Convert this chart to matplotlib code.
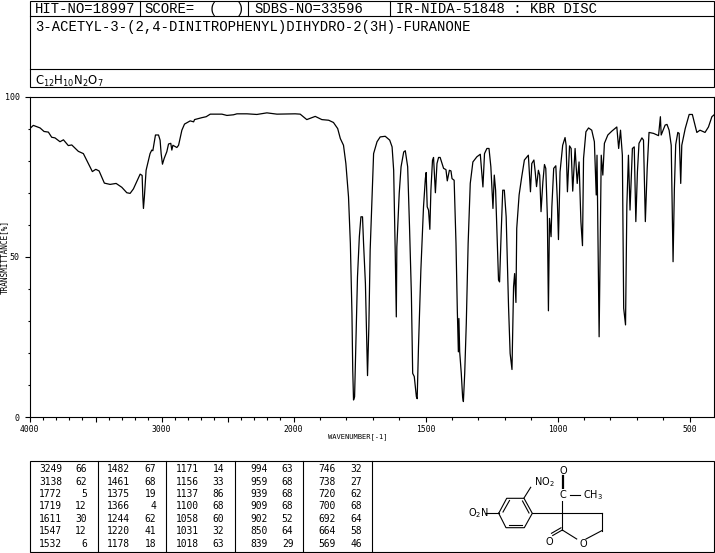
import matplotlib
matplotlib.use('Agg')
import matplotlib.pyplot as plt
from matplotlib.patches import Rectangle
import numpy as np

# Spectrum: wavenumber (1/cm), transmittance (%)
wavenumber = [
    4000, 3971, 3920, 3890, 3857, 3832, 3807, 3769, 3743, 3706, 3680, 3630, 3592, 3554, 3524, 3498,
    3473, 3433, 3390, 3344, 3301, 3263, 3238, 3213, 3183, 3162, 3147, 3142, 3137, 3130, 3117, 3087,
    3074, 3066, 3046, 3023, 3011, 3003, 2993, 2980, 2960, 2947, 2930, 2922, 2914, 2884, 2871, 2846,
    2826, 2783, 2757, 2750, 2695, 2662, 2631, 2543, 2505, 2455, 2429, 2353, 2278, 2202, 2126, 1994,
    1975, 1950, 1918, 1893, 1867, 1849, 1833, 1823, 1811, 1802, 1792, 1785, 1779, 1776, 1773, 1769,
    1764, 1758, 1751, 1745, 1739, 1735, 1728, 1725, 1720, 1715, 1710, 1703, 1697, 1684, 1672, 1653,
    1636, 1627, 1621, 1615, 1611, 1609, 1600, 1593, 1583, 1577, 1568, 1561, 1554, 1549, 1543, 1535,
    1532, 1527, 1518, 1508, 1501, 1498, 1494, 1489, 1484, 1480, 1474, 1470, 1463, 1457, 1451, 1445,
    1432, 1423, 1418, 1410, 1404, 1400, 1392, 1385, 1380, 1376, 1374, 1371, 1365, 1360, 1357, 1352,
    1346, 1339, 1331, 1321, 1306, 1293, 1283, 1277, 1268, 1260, 1253, 1245, 1240, 1235, 1230, 1224,
    1220, 1214, 1208, 1202, 1195, 1186, 1180, 1173, 1167, 1163, 1158, 1155, 1146, 1136, 1126, 1111,
    1103, 1098, 1090, 1085, 1080, 1073, 1068, 1063, 1056, 1050, 1045, 1039, 1035, 1031, 1025, 1022,
    1015, 1007, 1001, 997, 991, 981, 972, 968, 963, 955, 949, 943, 934, 926, 919, 912,
    906, 902, 893, 883, 871, 861, 854, 851, 843, 835, 829, 823, 810, 795, 776, 769,
    762, 755, 750, 743, 738, 732, 726, 717, 710, 704, 698, 692, 681, 675, 668, 661,
    654, 637, 618, 611, 608, 593, 586, 578, 570, 563, 558, 553, 545, 540, 534, 530,
    517, 502, 490, 473, 461, 442, 429, 416, 406, 400,
]
transmittance = [
    89.9, 91.0, 90.2, 89.1, 88.9, 87.3, 87.1, 85.9, 86.5, 84.7, 84.9, 82.9, 82.2, 79.1, 76.6, 77.3,
    76.8, 73.0, 72.6, 72.9, 71.7, 70.0, 69.8, 71.2, 73.9, 75.8, 75.4, 69.0, 65.1, 68.7, 77.0, 82.2,
    83.3, 83.1, 88.0, 88.0, 86.4, 82.2, 78.9, 80.7, 82.8, 85.2, 85.4, 83.3, 84.8, 84.1, 84.8, 89.5,
    91.4, 92.4, 92.1, 92.8, 93.4, 93.7, 94.5, 94.5, 94.1, 94.3, 94.6, 94.6, 94.4, 94.9, 94.5, 94.6,
    94.5, 92.8, 93.8, 92.8, 92.6, 91.9, 90.0, 86.9, 84.8, 79.1, 68.7, 54.2, 32.4, 14.7, 5.4, 6.4,
    23.0, 43.8, 56.3, 62.5, 62.5, 54.2, 41.7, 31.3, 13.0, 28.2, 52.1, 68.7, 82.2, 85.9, 87.4, 87.6,
    86.4, 84.3, 77.0, 51.0, 31.3, 53.1, 69.8, 78.1, 82.7, 83.1, 78.1, 59.4, 38.6, 13.7, 12.7, 6.4,
    5.8, 22.0, 45.9, 65.6, 74.4, 76.3, 65.6, 64.6, 58.6, 70.8, 80.1, 81.0, 70.0, 79.1, 81.0, 81.0,
    77.6, 77.2, 73.7, 77.0, 76.8, 74.4, 73.9, 54.2, 33.4, 20.4, 30.8, 20.4, 13.7, 6.4, 4.9, 13.7,
    29.3, 54.2, 72.9, 79.6, 81.2, 82.0, 71.8, 82.2, 83.8, 83.8, 78.1, 65.1, 75.5, 70.8, 58.3, 42.8,
    42.2, 57.3, 70.8, 70.8, 62.5, 34.5, 19.9, 14.9, 40.7, 44.8, 35.8, 58.9, 69.3, 75.0, 80.2, 81.7,
    70.3, 79.1, 80.2, 76.5, 71.9, 77.0, 75.5, 64.1, 73.4, 78.8, 77.6, 62.5, 33.2, 62.0, 56.3, 65.6,
    77.6, 78.4, 67.2, 55.4, 76.5, 84.8, 87.2, 84.8, 70.3, 84.6, 83.8, 70.5, 83.8, 72.9, 79.6, 61.0,
    53.5, 80.7, 89.0, 90.2, 89.5, 85.9, 69.3, 81.7, 25.1, 81.7, 75.5, 85.4, 88.0, 89.2, 90.5, 83.8,
    89.5, 81.7, 34.0, 28.8, 66.0, 81.7, 64.6, 83.8, 84.3, 61.0, 76.5, 85.4, 87.1, 86.4, 61.0, 77.6,
    88.8, 88.5, 87.8, 93.7, 88.0, 91.1, 91.3, 89.5, 84.8, 48.5, 71.3, 85.0, 88.8, 88.5, 72.9, 84.8,
    90.0, 94.4, 94.4, 88.8, 89.5, 88.8, 90.5, 93.7, 94.4, 95.0,
]

# Peak table as printed, one list per column block
peak_wn = [
    ['3249', '3138', '1772', '1719', '1611', '1547', '1532'],
    ['1482', '1461', '1375', '1366', '1244', '1220', '1178'],
    ['1171', '1156', '1137', '1100', '1058', '1031', '1018'],
    ['994', '959', '939', '909', '902', '850', '839'],
    ['746', '738', '720', '700', '692', '664', '569'],
]
peak_t = [
    ['66', '62', '5', '12', '30', '12', '6'],
    ['67', '68', '19', '4', '62', '41', '18'],
    ['14', '33', '86', '68', '60', '32', '63'],
    ['63', '68', '68', '68', '52', '64', '29'],
    ['32', '27', '62', '68', '64', '58', '46'],
]

FONT = 'DejaVu Sans Mono'
HEAD_FONT = 'Liberation Mono'
LW = 0.8


# the wavenumber axis is half as wide per unit above 2000
def wn_forward(v):
    v = np.asarray(v, dtype=float)
    return np.where(v > 2000, 2000 + (v - 2000) * 0.5, v)


def wn_inverse(p):
    p = np.asarray(p, dtype=float)
    return np.where(p > 2000, 2000 + (p - 2000) * 2, p)


fig = plt.figure(figsize=(7.15, 5.53), dpi=100)

# spectrum axes, placed on the pixel box of the reference
ax = fig.add_axes([29.5 / 715, 1 - 417.3 / 553, (714 - 29.5) / 715, (417.3 - 96.5) / 553])
ax.set_xscale('function', functions=(wn_forward, wn_inverse))
ax.plot(wavenumber, transmittance, color='black', linewidth=0.9)
ax.set_xticks([4000, 3500, 3000, 2500, 2000, 1500, 1000, 500])
ax.set_xticklabels(['4000', '', '3000', '', '2000', '1500', '1000', '500'])
ax.set_xticks([w for w in range(3900, 400, -100) if w % 500 != 0], minor=True)
ax.set_yticks([0, 50, 100])
ax.set_yticklabels(['0', '50', '100'])
ax.set_yticks(list(range(10, 100, 10)), minor=True)
ax.set_xlim(4000, 408)
ax.set_ylim(0, 100)
ax.tick_params(axis='x', which='major', length=3.6, width=LW, labelsize=5.8, pad=2)
ax.tick_params(axis='y', which='major', length=3.6, width=LW, labelsize=6, pad=3.4)
ax.tick_params(axis='both', which='minor', length=1.8, width=LW)
for lab in ax.get_xticklabels() + ax.get_yticklabels():
    lab.set_family(FONT)
for s in ax.spines.values():
    s.set_linewidth(LW)

# overlay in pixel coordinates for the header, table and structure
ov = fig.add_axes([0, 0, 1, 1])
ov.set_xlim(0, 715)
ov.set_ylim(553, 0)
ov.axis('off')

# header boxes
ov.add_patch(Rectangle((29.7, 0.5), 684.3, 86.8, fill=False, ec='black', lw=LW))
ov.plot([29.7, 714], [16.4, 16.4], color='black', lw=LW)
ov.plot([29.7, 714], [69.3, 69.3], color='black', lw=LW)
for xv in [140, 248, 390]:
    ov.plot([xv, xv], [0.5, 16.4], color='black', lw=LW)

head_size = 10
ov.text(35.2, 9, 'HIT-NO=18997', family=HEAD_FONT, fontsize=head_size, va='center')
ov.text(144.5, 9, 'SCORE=', family=HEAD_FONT, fontsize=head_size, va='center')
ov.text(208.5, 9, '(', family=HEAD_FONT, fontsize=head_size, va='center')
ov.text(236, 9, ')', family=HEAD_FONT, fontsize=head_size, va='center')
ov.text(254, 9, 'SDBS-NO=33596', family=HEAD_FONT, fontsize=head_size, va='center')
ov.text(396, 9, 'IR-NIDA-51848 : KBR DISC', family=HEAD_FONT, fontsize=head_size, va='center')
ov.text(35.2, 27, '3-ACETYL-3-(2,4-DINITROPHENYL)DIHYDRO-2(3H)-FURANONE', family=HEAD_FONT, fontsize=head_size, va='center')
ov.text(35.2, 81, r'C$_{12}$H$_{10}$N$_{2}$O$_{7}$', fontsize=8.4, va='center', math_fontfamily='dejavusans')

# axis titles
ov.text(358, 437, 'WAVENUMBER[-1]', family=FONT, fontsize=5.1, ha='center', va='center')
ov.text(4, 257.5, 'TRANSMITTANCE[%]', family=FONT, fontsize=5.6, rotation=90, ha='center', va='center')

# peak table
ov.add_patch(Rectangle((29.5, 460.7), 684.5, 91.6, fill=False, ec='black', lw=LW))
for xv in [98.3, 166.3, 235.3, 303.3, 372.3]:
    ov.plot([xv, xv], [460.7, 552.3], color='black', lw=LW)
col_wn_right = [62.3, 130.3, 199.3, 267.7, 336]
col_t_right = [86.7, 156, 224, 293.3, 361.7]
row_y = [469.3, 481.7, 494, 506, 519, 531, 543.7]
for c in range(5):
    for r in range(7):
        ov.text(col_wn_right[c], row_y[r], peak_wn[c][r], family=FONT, fontsize=6.9, ha='right', va='center')
        ov.text(col_t_right[c], row_y[r], peak_t[c][r], family=FONT, fontsize=6.9, ha='right', va='center')

# structure drawing, bond ends in pixels
ring = [(498.7, 513.3), (506.7, 498.3), (524, 498.3), (532.3, 513.3), (524.3, 527.7), (506, 527.7), (498.7, 513.3)]
bonds = [
    (532.3, 513.3, 601.7, 513.3), (601.7, 513.3, 601.7, 530.7), (601.7, 530.7, 586, 539),
    (576.7, 539, 562.3, 530), (562.3, 530, 562.3, 491.7), (570, 495, 580, 495),
    (562.3, 530, 552.7, 535.5), (561, 527.8, 551.5, 533.3), (524, 498, 530.7, 487.3),
    (486, 513.3, 498.7, 513.3),
]
double_inner = [(509.5, 500.5, 503, 512), (529, 513, 522.5, 501), (508.5, 525.2, 522, 525.2)]
ox, oy = zip(*ring)
ov.plot(ox, oy, color='black', lw=LW)
for b in bonds + double_inner:
    ov.plot([b[0], b[2]], [b[1], b[3]], color='black', lw=LW)
ov.plot([563, 563], [476, 488], color='black', lw=1.6)

ov.text(563.7, 471.3, 'O', fontsize=7, ha='center', va='center')
ov.text(563.3, 495, 'C', fontsize=7, ha='center', va='center',
        bbox=dict(facecolor='white', edgecolor='none', pad=0.5))
ov.text(582.7, 495.5, r'CH$_3$', fontsize=7, ha='left', va='center')
ov.text(533.5, 482, r'NO$_2$', fontsize=7, ha='left', va='center')
ov.text(468.5, 513.3, r'O$_2$N', fontsize=7, ha='left', va='center')
ov.text(549, 542, 'O', fontsize=7, ha='center', va='center')
ov.text(583.7, 544, 'O', fontsize=7, ha='center', va='center')

fig.savefig('out.png', dpi=100)
